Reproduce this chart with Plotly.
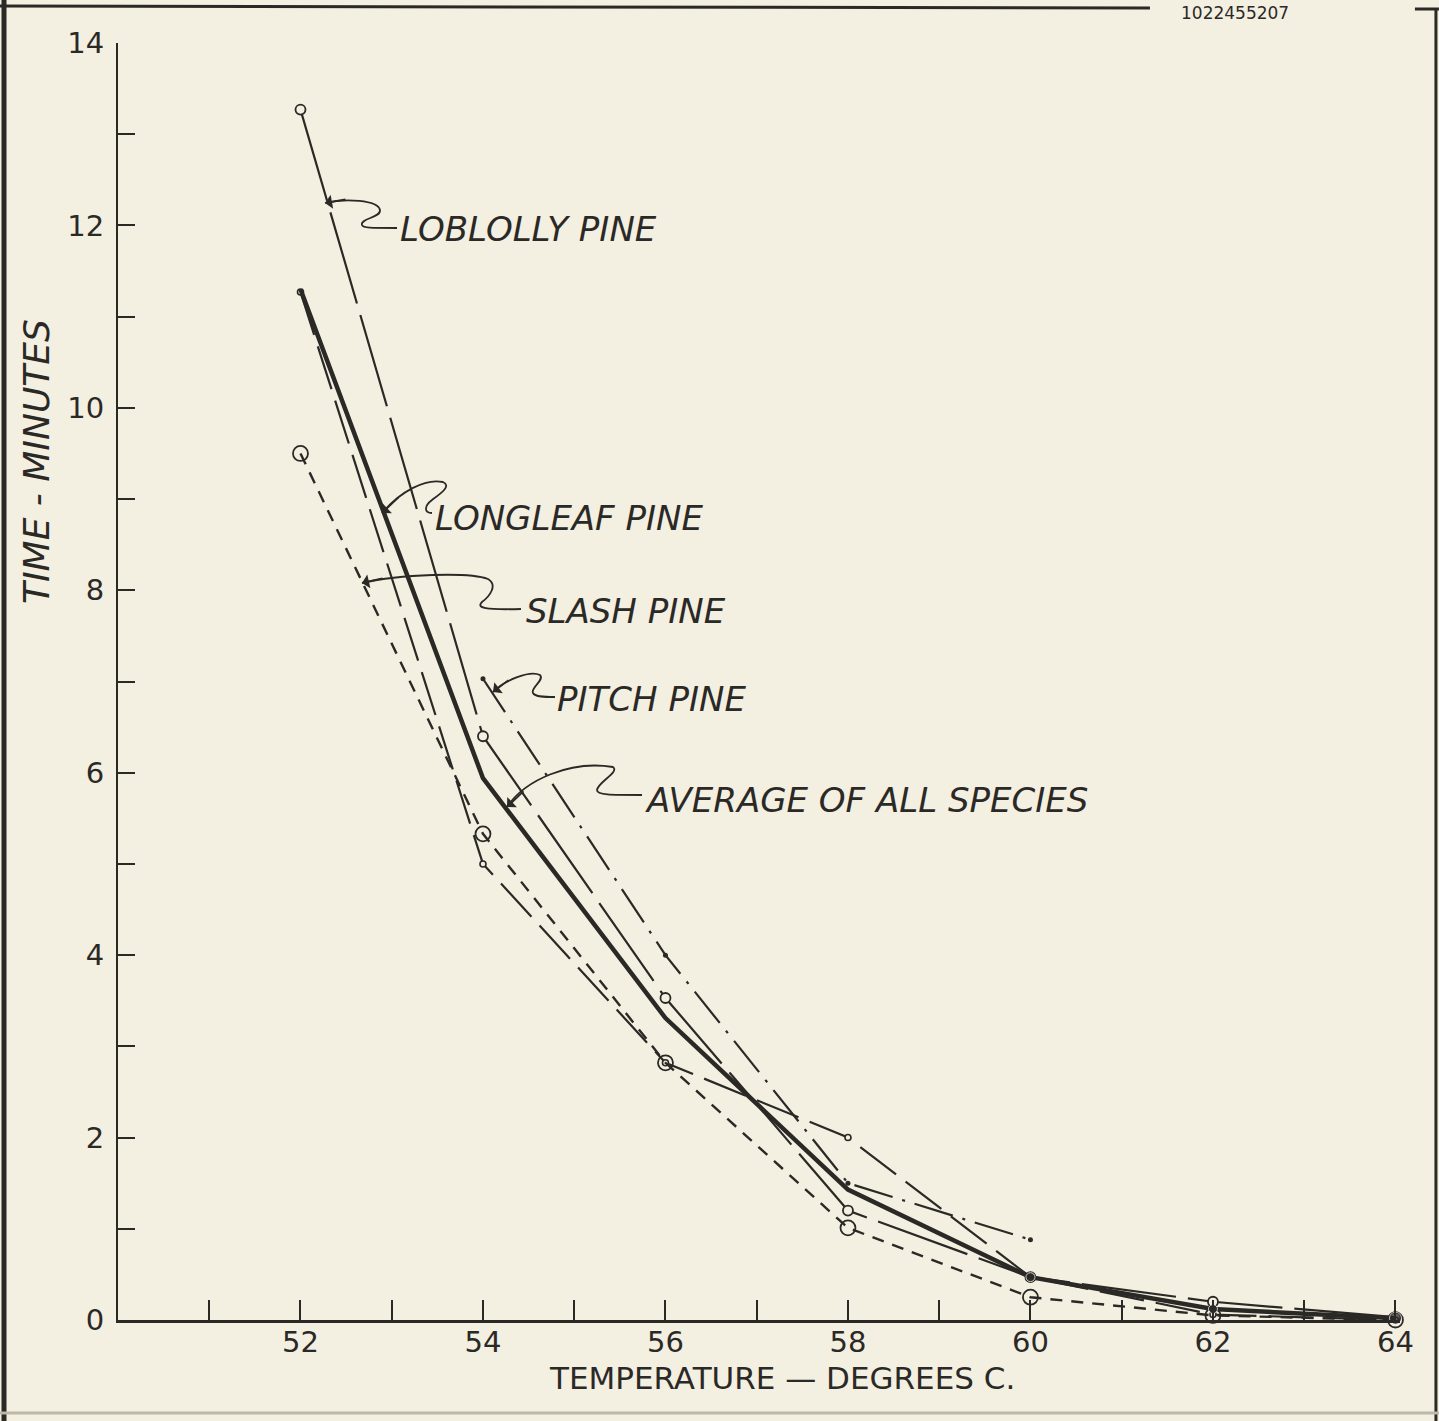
import plotly.graph_objects as go

# ---------------- data ----------------
temps = [52, 54, 56, 58, 60, 62, 64]
loblolly = [13.27, 6.4, 3.53, 1.2, 0.47, 0.2, 0.03]
longleaf = [11.27, 5.0, 2.82, 2.0, 0.47, 0.06, 0.0]
slash = [9.5, 5.33, 2.82, 1.01, 0.25, 0.05, 0.0]
pitch_temps = [54, 56, 58, 60]
pitch = [7.03, 4.0, 1.5, 0.88]
average = [11.3, 5.94, 3.31, 1.43, 0.47, 0.12, 0.02]

x_tickvals = list(range(51, 65))
x_ticktext = [str(v) if v % 2 == 0 else "" for v in x_tickvals]
y_tickvals = list(range(0, 15))
y_ticktext = [str(v) if v % 2 == 0 else "" for v in y_tickvals]

series_labels = ["LOBLOLLY PINE", "LONGLEAF PINE", "SLASH PINE", "PITCH PINE", "AVERAGE OF ALL SPECIES"]

# ---------------- layout geometry ----------------
W, H = 1439, 1421
ML, MT, MB = 118, 43, 101
XR = [50, 64.05]
YR = [0, 14]
PXX = 91.25  # px per degree
PXY = (H - MB - MT) / (YR[1] - YR[0])
PW = (XR[1] - XR[0]) * PXX
MR = W - ML - PW

INK = "#2b2926"
BG = "#f3efe1"
FONT = "DejaVu Sans"


def dx(px):
    return XR[0] + (px - ML) / PXX


def dy(py):
    return (H - MB - py) / PXY


def ppx(px):
    return (px - ML) / PW


def ppy(py):
    return (H - MB - py) / (H - MB - MT)


fig = go.Figure()

fig.add_trace(go.Scatter(
    x=temps, y=loblolly, mode="lines+markers", name=series_labels[0],
    line=dict(color=INK, width=2.2, dash="95px,12px"),
    marker=dict(symbol="circle", size=10, color=BG, line=dict(color=INK, width=1.8)),
    cliponaxis=False))

fig.add_trace(go.Scatter(
    x=temps, y=longleaf, mode="lines+markers", name=series_labels[1],
    line=dict(color=INK, width=2.2, dash="45px,12px"),
    marker=dict(symbol="circle", size=6, color=BG, line=dict(color=INK, width=1.6)),
    cliponaxis=False))

fig.add_trace(go.Scatter(
    x=temps, y=slash, mode="lines+markers", name=series_labels[2],
    line=dict(color=INK, width=2.4, dash="12px,9px"),
    marker=dict(symbol="circle", size=15, color="rgba(0,0,0,0)", line=dict(color=INK, width=1.8)),
    cliponaxis=False))

fig.add_trace(go.Scatter(
    x=pitch_temps, y=pitch, mode="lines+markers", name=series_labels[3],
    line=dict(color=INK, width=2.2, dash="40px,10px,3px,10px"),
    marker=dict(symbol="circle", size=5, color=INK),
    cliponaxis=False))

fig.add_trace(go.Scatter(
    x=temps, y=average, mode="lines+markers", name=series_labels[4],
    line=dict(color=INK, width=4.5),
    marker=dict(symbol="circle", size=[0, 0, 0, 0, 9, 9, 12], color=INK),
    cliponaxis=False))

# ---------------- labels with squiggly leaders ----------------
labels = [
    (series_labels[0], 398, 229, (325, 203), (22, -4),
     [(325, 203), "C", (345, 198), (378, 200), (380, 210), "C", (381, 218), (360, 218), (362, 225), "C", (363, 228), (370, 228), (397, 228)]),
    (series_labels[1], 433, 518, (382, 513), (18, -17),
     [(382, 513), "C", (400, 492), (425, 478), (443, 482), "C", (452, 486), (440, 494), (432, 500), "C", (424, 506), (424, 513), (432, 513)]),
    (series_labels[2], 524, 611, (362, 583), (22, -5),
     [(362, 583), "C", (400, 574), (470, 572), (488, 579), "C", (498, 585), (490, 596), (482, 602), "C", (476, 608), (485, 610), (521, 609)]),
    (series_labels[3], 555, 699, (493, 692), (17, -13),
     [(493, 692), "C", (505, 680), (530, 670), (540, 675), "C", (545, 680), (530, 688), (533, 693), "C", (535, 697), (545, 697), (555, 697)]),
    (series_labels[4], 643, 800, (507, 807), (18, -17),
     [(507, 807), "C", (525, 780), (570, 760), (613, 767), "C", (620, 772), (598, 782), (597, 790), "C", (597, 795), (610, 795), (642, 795)]),
]

shapes = []
annotations = []
for text, tx, ty, tip, off, path in labels:
    parts = []
    first = True
    for p in path:
        if isinstance(p, str):
            parts.append(p)
        else:
            s = f"{dx(p[0]):.4f},{dy(p[1]):.4f}"
            if first:
                parts.append("M " + s)
                first = False
            else:
                parts.append(s)
    shapes.append(dict(type="path", path=" ".join(parts), xref="x", yref="y",
                       line=dict(color=INK, width=1.8)))
    annotations.append(dict(x=dx(tip[0]), y=dy(tip[1]), xref="x", yref="y",
                            ax=off[0], ay=off[1], text="", showarrow=True,
                            arrowhead=1, arrowsize=1.3, arrowwidth=1.8, arrowcolor=INK))
    annotations.append(dict(x=dx(tx), y=dy(ty), xref="x", yref="y", text=f"<i>{text}</i>",
                            showarrow=False, xanchor="left", yanchor="middle",
                            font=dict(family=FONT, size=34, color=INK)))

# axis titles
annotations.append(dict(x=ppx(782), y=ppy(1378), xref="paper", yref="paper",
                        text="TEMPERATURE — DEGREES C.", showarrow=False,
                        xanchor="center", yanchor="middle",
                        font=dict(family=FONT, size=31, color=INK)))
annotations.append(dict(x=ppx(36), y=ppy(462), xref="paper", yref="paper",
                        text="<i>TIME - MINUTES</i>", showarrow=False, textangle=-90,
                        xanchor="center", yanchor="middle",
                        font=dict(family=FONT, size=36, color=INK)))
# scan identifier at the top edge
annotations.append(dict(x=ppx(1235), y=ppy(1), xref="paper", yref="paper",
                        text="1022455207", showarrow=False,
                        xanchor="center", yanchor="top",
                        font=dict(family=FONT, size=17, color=INK)))

# frame lines of the scanned page
frame = [
    ((4, 0), (4, 1421), 5),
    ((0, 6), (1150, 8), 3),
    ((1415, 9), (1439, 9), 3),
    ((1436, 9), (1436, 1421), 3),
]
for (x0, y0), (x1, y1), w in frame:
    shapes.append(dict(type="line", xref="paper", yref="paper",
                       x0=ppx(x0), y0=ppy(y0), x1=ppx(x1), y1=ppy(y1),
                       line=dict(color=INK, width=w)))
shapes.append(dict(type="line", xref="paper", yref="paper",
                   x0=ppx(0), y0=ppy(1413), x1=ppx(1439), y1=ppy(1413),
                   line=dict(color="#bdb8aa", width=3)))

fig.update_layout(
    width=W, height=H,
    margin=dict(l=ML, r=MR, t=MT, b=MB),
    paper_bgcolor=BG, plot_bgcolor=BG,
    showlegend=False,
    shapes=shapes, annotations=annotations,
    xaxis=dict(range=XR, showgrid=False, zeroline=False, showline=True,
               linecolor=INK, linewidth=3, ticks="inside", ticklen=20, tickwidth=2,
               tickcolor=INK, tickvals=x_tickvals, ticktext=x_ticktext,
               ticklabelstandoff=-6,
               tickfont=dict(family=FONT, size=29, color=INK)),
    yaxis=dict(range=YR, showgrid=False, zeroline=False, showline=True,
               linecolor=INK, linewidth=2, ticks="inside", ticklen=17, tickwidth=2,
               tickcolor=INK, tickvals=y_tickvals, ticktext=y_ticktext,
               ticklabelstandoff=6,
               tickfont=dict(family=FONT, size=29, color=INK)),
)

fig.write_html(
    "out.html",
    config={"displayModeBar": False},
    post_script="document.body.style.margin='0';document.body.style.overflow='hidden';",
)
